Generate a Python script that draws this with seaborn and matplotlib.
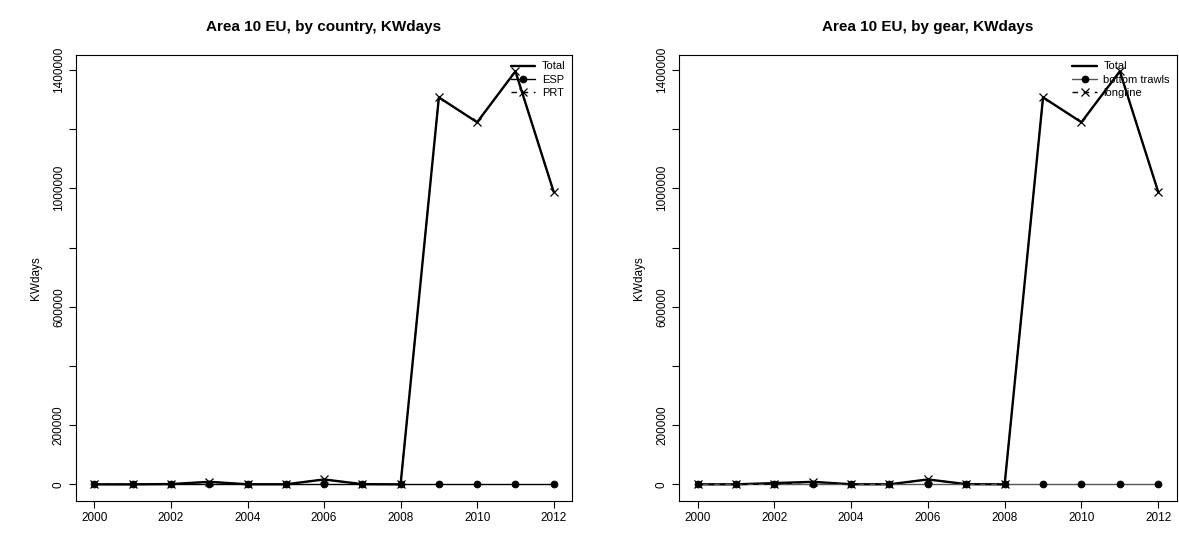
import numpy as np
import pandas as pd
import matplotlib.pyplot as plt
import seaborn as sns

# Data
years = list(range(2000, 2013))

total_country = [600, 500, 1500, 9000, 800, 700, 17000, 1200, 500, 1307000, 1223000, 1395000, 988000]
esp = [100, 100, 100, 100, 100, 100, 100, 100, 100, 100, 100, 100, 100]
prt = [500, 400, 1400, 8900, 700, 600, 16900, 1100, 400, 1306900, 1222900, 1394900, 987900]

total_gear = [600, 500, np.nan, 9000, 800, 700, 17000, 1200, 500, 1307000, 1223000, 1395000, 988000]
bottom_trawls = [100, 100, 100, 100, 100, 100, 100, 100, 100, 100, 100, 100, 100]
longline = [500, 400, 1400, 8900, 700, 600, 16900, 1100, 400, 1306900, 1222900, 1394900, 987900]

yticks = [0, 200000, 400000, 600000, 800000, 1000000, 1200000, 1400000]
ytick_labels = ["0", "200000", "", "600000", "", "1000000", "", "1400000"]
xticks = [2000, 2002, 2004, 2006, 2008, 2010, 2012]

sns.set_style("ticks")
plt.rcParams['font.family'] = ['Liberation Sans', 'DejaVu Sans']
plt.rcParams['text.color'] = 'black'
plt.rcParams['axes.labelcolor'] = 'black'
plt.rcParams['xtick.color'] = 'black'
plt.rcParams['ytick.color'] = 'black'

fig = plt.figure(figsize=(11.79, 5.37), dpi=100)
ax1 = fig.add_axes([0.0645, 0.067, 0.4207, 0.831])
ax2 = fig.add_axes([0.5760, 0.067, 0.4220, 0.831])


def draw_panel(ax, title, total, s1, s1_name, s2, s2_name, s1_color):
    df = pd.DataFrame({"year": years, "Total": total, s1_name: s1, s2_name: s2})
    sns.lineplot(data=df, x="year", y="Total", ax=ax, color="black", lw=1.7,
                 label="Total")
    sns.lineplot(data=df, x="year", y=s1_name, ax=ax, color=s1_color, lw=1.0,
                 marker="o", markersize=4.8, markeredgecolor="black",
                 markerfacecolor="black", label=s1_name)
    sns.lineplot(data=df, x="year", y=s2_name, ax=ax, color="black", lw=1.0,
                 linestyle=(0, (4, 4)), marker="x", markersize=5.5,
                 markeredgecolor="black", markeredgewidth=0.9, label=s2_name)

    ax.set_xlim(1999.52, 2012.48)
    ax.set_ylim(-55800, 1450800)
    ax.set_xticks(xticks)
    ax.set_yticks(yticks)
    ax.set_yticklabels(ytick_labels, rotation=90, va="center")
    ax.tick_params(axis="both", labelsize=8.5, length=5, width=0.8, pad=3)
    ax.set_xlabel("")
    ax.set_ylabel("KWdays", fontsize=8.5, labelpad=8)
    ax.set_title(title, fontsize=11, fontweight="bold", pad=17)
    for sp in ax.spines.values():
        sp.set_visible(True)
        sp.set_color("black")
        sp.set_linewidth(0.8)
    ax.grid(False)
    ax.legend(loc="upper right", frameon=False, fontsize=8,
              handlelength=2.2, handletextpad=0.6, labelspacing=0.3,
              borderaxespad=0.2)


draw_panel(ax1, "Area 10 EU, by country, KWdays", total_country,
           esp, "ESP", prt, "PRT", "black")
draw_panel(ax2, "Area 10 EU, by gear, KWdays", total_gear,
           bottom_trawls, "bottom trawls", longline, "longline", "#555555")

fig.savefig("out.png", dpi=100)
